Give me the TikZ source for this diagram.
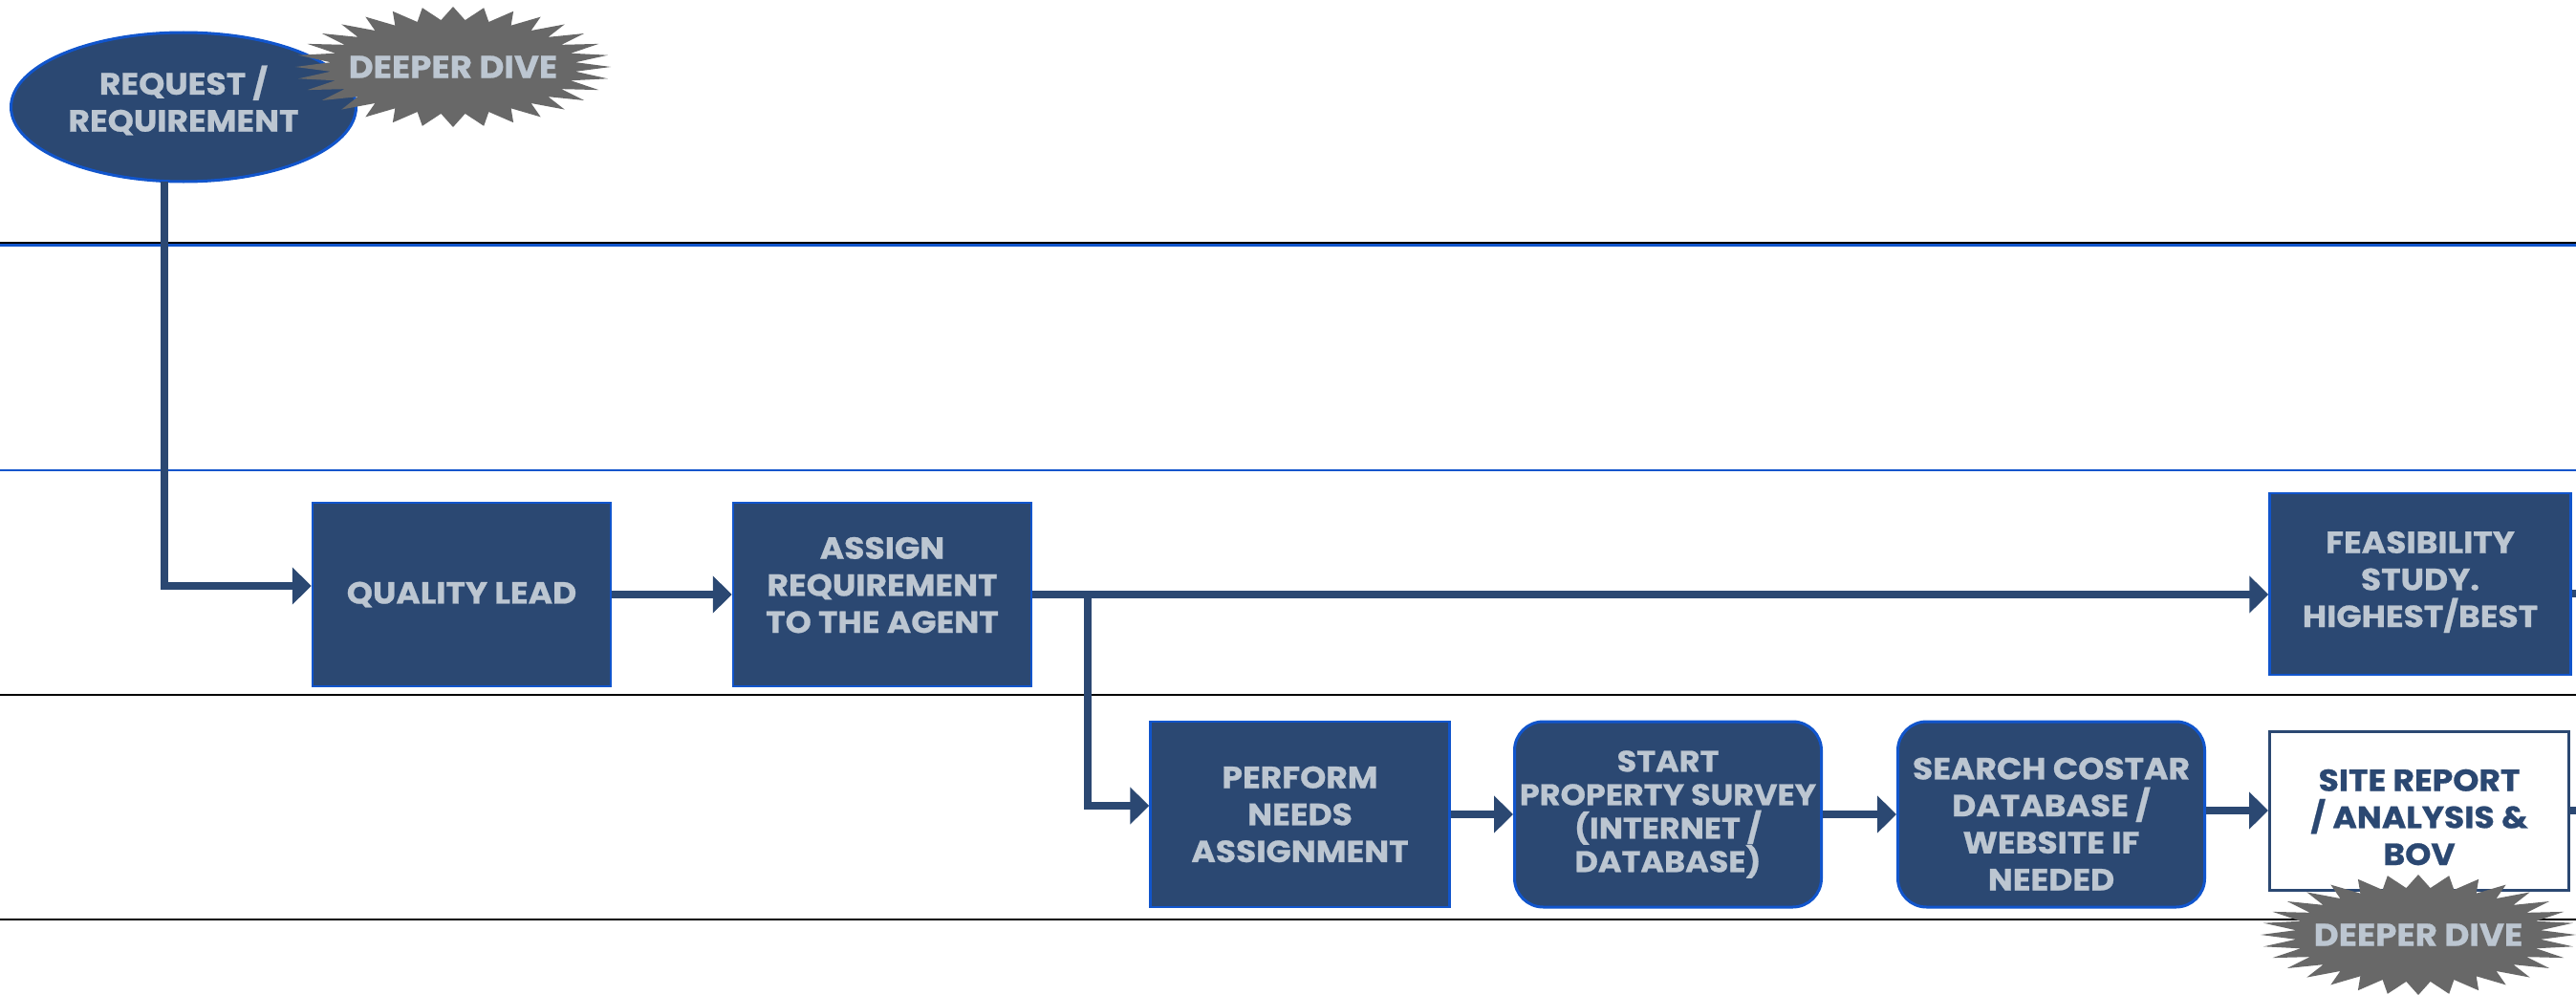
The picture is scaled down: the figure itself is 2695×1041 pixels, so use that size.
\documentclass[tikz,border=0pt]{standalone}
\usepackage{fontspec}
\setmainfont{Poppins}[BoldFeatures={FakeStretch=1.08,FakeBold=0.8}]
\usetikzlibrary{shapes.geometric,arrows.meta,calc}
\definecolor{navy}{HTML}{2B4872}
\definecolor{bord}{HTML}{1155CC}
\definecolor{lt}{HTML}{BCC6D1}
\definecolor{burstgray}{HTML}{686868}
\definecolor{sepblue}{HTML}{1155CC}
\newcommand\burstshape[2]{%
  \fill[burstgray] plot[samples=65, domain=0:64, variable=\k]
    ({#1 + 165*(0.89+0.11*cos(\k*180))*cos(\k*5.625)},
     {#2 + 63*(0.89+0.11*cos(\k*180))*sin(\k*5.625)}) -- cycle;}
\begin{document}
\begin{tikzpicture}[x=1pt,y=-1pt,
  every node/.style={font=\fontsize{32}{38.7}\selectfont\bfseries, align=center, inner sep=0pt},
  box/.style={draw=bord, line width=2.5pt, fill=navy, text=lt, minimum width=312pt, minimum height=192pt},
  rbox/.style={box, line width=3pt, rounded corners=30pt, minimum width=321pt, minimum height=194pt},
  wbox/.style={draw=navy, line width=3pt, fill=white, text=navy, minimum width=313pt, minimum height=166pt},
  bursttext/.style={text=lt, font=\fontsize{33}{38.7}\selectfont\bfseries},
  conn/.style={draw=navy, line width=8pt},
  arr/.style={conn, -{Triangle[length=20pt,width=38pt]}},
]
\useasboundingbox (0,0) rectangle (2695,1041);
\fill[white] (0,0) rectangle (2695,1041);
% lane separators
\draw[black, line width=2.6pt] (0,254) -- (2695,254);
\draw[sepblue, line width=3.2pt] (0,256.8) -- (2695,256.8);
\draw[sepblue, line width=2.5pt] (0,492) -- (2695,492);
\draw[black, line width=2.5pt] (0,727) -- (2695,727);
\draw[black, line width=2.5pt] (0,962) -- (2695,962);

% nodes
\node[ellipse, draw=bord, line width=3pt, fill=navy, minimum width=361pt, minimum height=156pt] (req) at (192,112) {};
\node[text=lt] (reqtext) at (192,105) {REQUEST /\\REQUIREMENT};
\burstshape{474}{70}
\node[bursttext] (burst1) at (474,70) {DEEPER DIVE};

\node[box] (qual) at (483,622) {QUALITY LEAD};
\node[box, text depth=20pt] (assign) at (923,622) {ASSIGN\\REQUIREMENT\\TO THE AGENT};
\node[box, minimum width=315pt, minimum height=190pt, text depth=10pt] (feas) at (2532,611) {FEASIBILITY\\STUDY.\\HIGHEST/BEST};

\node[box, minimum width=313pt, minimum height=194pt] (perf) at (1360,852) {PERFORM\\NEEDS\\ASSIGNMENT};
\node[rbox, font=\fontsize{31}{35}\selectfont\bfseries] (start) at (1745,852) {START\\PROPERTY SURVEY\\(INTERNET /\\DATABASE)};
\node[rbox, text height=159pt, text depth=0pt] (search) at (2146,852) {SEARCH COSTAR\\DATABASE /\\WEBSITE IF\\NEEDED};
\node[wbox, text height=114pt, text depth=0pt] (site) at (2531,848) {SITE REPORT\\/ ANALYSIS \&\\BOV};

% connectors
\coordinate (j) at (1138,622);
\coordinate (e1) at (2700,621);
\coordinate (e2) at (2700,848);
\draw[arr] ($(req.south)+(-20,-2)$) |- ($(qual.west)+(0,-9)$);
\draw[arr] (qual) -- (assign);
\draw[arr] (assign.east) -- (assign.east -| feas.west);
\draw[arr] (j) |- ($(perf.west)+(0,-9)$);
\draw[arr] (perf) -- (start);
\draw[arr] (start) -- (search);
\draw[arr] (search.east |- site.west) -- (site.west);
\draw[conn] (feas.east |- e1) -- (e1);
\draw[conn] (site.east) -- (e2);

\burstshape{2530}{978}
\node[bursttext] (burst2) at (2530,978) {DEEPER DIVE};
\end{tikzpicture}
\end{document}
